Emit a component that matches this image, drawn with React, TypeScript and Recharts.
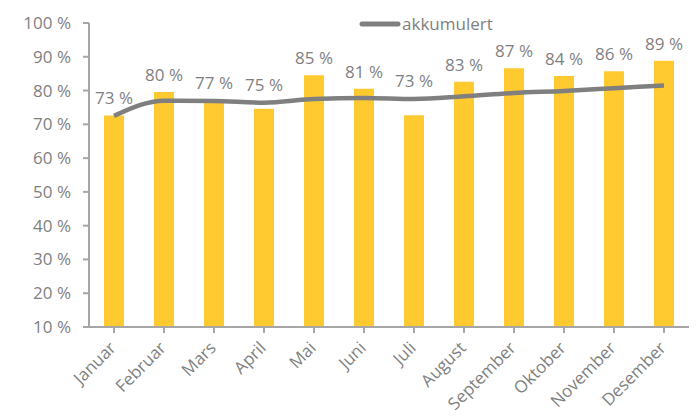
import {
  ComposedChart,
  Bar,
  Line,
  XAxis,
  YAxis,
  Legend,
  LabelList,
} from "recharts";

const months = [
  "Januar", "Februar", "Mars", "April", "Mai", "Juni",
  "Juli", "August", "September", "Oktober", "November", "Desember",
];
const monthly = [72.6, 79.6, 76.6, 74.6, 84.5, 80.5, 72.7, 82.6, 86.6, 84.3, 85.7, 88.8];
const cumulative = [72.5, 77.0, 76.9, 76.4, 77.5, 77.8, 77.5, 78.3, 79.3, 79.9, 80.7, 81.5];
const yTicks = [10, 20, 30, 40, 50, 60, 70, 80, 90, 100];

const data = months.map((m, i) => ({
  month: m,
  maned: monthly[i],
  akkumulert: cumulative[i],
}));

const GREY = "#7f7f7f";
const AXIS = "#a6a6a6";
const FONT = "'Open Sans', sans-serif";

const XTick = (props: any) => {
  const { x, y, payload } = props;
  return (
    <g transform={`translate(${x + 3},${y + 14})`}>
      <text
        textAnchor="end"
        transform="rotate(-45)"
        fill={GREY}
        fontSize={17}
        fontFamily={FONT}
      >
        {payload.value}
      </text>
    </g>
  );
};

// value label above the bar, lifted above the line when the line runs higher
const BarLabel = (props: any) => {
  const { x, y, width, height, value, index } = props;
  const bottom = y + height;
  const perUnit = height / (value - 10);
  const lineY = bottom - (cumulative[index] - 10) * perUnit;
  const base = Math.min(y - 11, lineY - 12);
  return (
    <text
      x={x + width / 2}
      y={base}
      textAnchor="middle"
      fill={GREY}
      fontSize={17}
      fontFamily={FONT}
    >
      {`${Math.round(value)} %`}
    </text>
  );
};

const LegendBox = () => (
  <div style={{ display: "flex", alignItems: "center", fontFamily: FONT, fontSize: 17, color: GREY }}>
    <svg width={42} height={10}>
      <line x1={3} y1={5} x2={39} y2={5} stroke={GREY} strokeWidth={5} strokeLinecap="round" />
    </svg>
    <span style={{ marginLeft: 1 }}>akkumulert</span>
  </div>
);

export default function App() {
  return (
    <div style={{ position: "absolute", left: 0, top: 0, background: "#fff" }}>
      <ComposedChart
        width={699}
        height={416}
        data={data}
        margin={{ top: 23, right: 10, bottom: 29, left: 0 }}
        barCategoryGap={0}
      >
        <XAxis
          dataKey="month"
          interval={0}
          height={60}
          stroke={AXIS}
          strokeWidth={2}
          tickSize={6}
          tick={<XTick />}
        />
        <YAxis
          domain={[10, 100]}
          ticks={yTicks}
          width={89}
          stroke={AXIS}
          strokeWidth={2}
          tickSize={6}
          tickMargin={12}
          tickFormatter={(v: number) => `${v} %`}
          tick={{ fill: GREY, fontSize: 17, fontFamily: FONT }}
        />
        <Legend
          verticalAlign="middle"
          align="center"
          wrapperStyle={{ top: 12, left: 359, width: "auto", height: "auto" }}
          content={() => <LegendBox />}
        />
        <Bar
          dataKey="maned"
          fill="#ffca30"
          barSize={20}
          legendType="none"
          isAnimationActive={false}
        >
          <LabelList dataKey="maned" content={<BarLabel />} />
        </Bar>
        <Line
          dataKey="akkumulert"
          type="monotone"
          stroke={GREY}
          strokeWidth={4.5}
          dot={false}
          isAnimationActive={false}
        />
      </ComposedChart>
    </div>
  );
}
